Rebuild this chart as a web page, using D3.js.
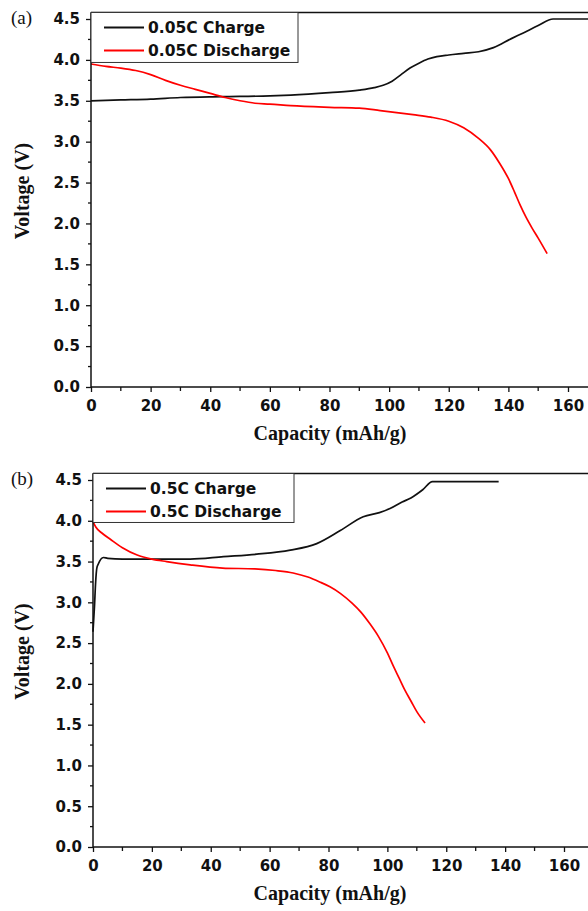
<!DOCTYPE html>
<html>
<head>
<meta charset="utf-8">
<script src="https://cdn.jsdelivr.net/npm/d3@7"></script>
<style>
  body { margin: 0; background: #fff; }
  svg { display: block; }
</style>
</head>
<body>
<div id="chart"></div>
<script>
// Panel (a): 0.05C
const chargeCapA  = [0, 10, 20, 30, 44, 60, 67, 80, 90, 95, 98, 101, 104, 107, 110, 113, 116, 120, 125, 130, 135, 141, 145, 150, 155, 170];
const chargeVoltA = [3.50, 3.51, 3.52, 3.54, 3.55, 3.56, 3.57, 3.60, 3.63, 3.66, 3.69, 3.74, 3.82, 3.90, 3.96, 4.01, 4.04, 4.06, 4.08, 4.10, 4.15, 4.26, 4.33, 4.42, 4.50, 4.50];
const dischargeCapA  = [0, 5, 10, 15, 20, 25, 30, 35, 40, 45, 50, 55, 60, 67, 80, 90, 97, 108, 114, 120, 125, 130, 134, 137, 140, 142, 144, 146, 148, 150, 153];
const dischargeVoltA = [3.95, 3.92, 3.90, 3.87, 3.82, 3.75, 3.69, 3.64, 3.59, 3.54, 3.50, 3.47, 3.46, 3.44, 3.42, 3.41, 3.38, 3.33, 3.30, 3.25, 3.17, 3.04, 2.90, 2.74, 2.55, 2.39, 2.22, 2.07, 1.94, 1.82, 1.63];

// Panel (b): 0.5C
const chargeCapB  = [0, 0.5, 0.9, 1.3, 1.8, 3.5, 5, 10, 20, 33, 44.3, 55.6, 67, 76, 84, 91.8, 97.3, 100.9, 105, 108, 112, 115.3, 137.8];
const chargeVoltB = [2.64, 2.95, 3.25, 3.42, 3.47, 3.55, 3.54, 3.53, 3.53, 3.53, 3.56, 3.59, 3.64, 3.72, 3.88, 4.05, 4.10, 4.15, 4.23, 4.28, 4.38, 4.48, 4.48];
const dischargeCapB  = [0, 1, 3, 6, 10, 15, 20, 25, 33, 44, 55, 62, 68, 73, 77, 80.5, 84, 88, 91, 94, 97, 100, 102, 104, 106, 108, 110, 112.8];
const dischargeVoltB = [3.99, 3.92, 3.85, 3.77, 3.67, 3.58, 3.53, 3.50, 3.46, 3.42, 3.41, 3.39, 3.36, 3.31, 3.25, 3.19, 3.11, 2.99, 2.88, 2.74, 2.58, 2.38, 2.22, 2.07, 1.92, 1.79, 1.66, 1.52];

const voltTicks = [0, 0.5, 1, 1.5, 2, 2.5, 3, 3.5, 4, 4.5];
const voltMinor = [0.25, 0.75, 1.25, 1.75, 2.25, 2.75, 3.25, 3.75, 4.25];
const capTicks = [0, 20, 40, 60, 80, 100, 120, 140, 160];
const capMinor = [10, 30, 50, 70, 90, 110, 130, 150, 170];

const panels = [
    { label: "(a)", left: 91, right: 568, bottom: 387, top: 19, legendW: 207, legendH: 50,
      names: ["0.05C Charge", "0.05C Discharge"],
      charge: [chargeCapA, chargeVoltA], discharge: [dischargeCapA, dischargeVoltA] },
    { label: "(b)", left: 93, right: 564, bottom: 847, top: 480, legendW: 201, legendH: 49,
      names: ["0.5C Charge", "0.5C Discharge"],
      charge: [chargeCapB, chargeVoltB], discharge: [dischargeCapB, dischargeVoltB] }
];

const svg = d3.select("#chart")
    .append("svg")
    .attr("width", 588)
    .attr("height", 911);

const tickFont = "'DejaVu Sans', sans-serif";
const serifFont = "'Liberation Serif', 'Times New Roman', serif";

panels.forEach(p => {
    const x = d3.scaleLinear().domain([0, 160]).range([p.left, p.right]);
    const y = d3.scaleLinear().domain([0, 4.5]).range([p.bottom, p.top]);
    const g = svg.append("g");
    const xMax = x(172);
    const yTop = y(4.58);

    // curves (monotone so plateaus keep their sharp corner)
    const line = d3.line()
        .x(d => x(d[0]))
        .y(d => y(d[1]))
        .curve(d3.curveMonotoneX);

    g.append("path")
        .datum(d3.zip(p.charge[0], p.charge[1]))
        .attr("d", line)
        .attr("fill", "none")
        .attr("stroke", "#111")
        .attr("stroke-width", 1.7);

    g.append("path")
        .datum(d3.zip(p.discharge[0], p.discharge[1]))
        .attr("d", line)
        .attr("fill", "none")
        .attr("stroke", "#ff0000")
        .attr("stroke-width", 1.7);

    // frame: top border
    g.append("line")
        .attr("x1", p.left).attr("x2", xMax)
        .attr("y1", yTop).attr("y2", yTop)
        .attr("stroke", "#111").attr("stroke-width", 1.5);

    // axes
    const xAxis = g.append("g")
        .attr("transform", `translate(0, ${p.bottom})`)
        .call(d3.axisBottom(x).tickValues(capTicks).tickSize(5).tickSizeOuter(0).tickPadding(8));
    xAxis.select(".domain").attr("d", `M${p.left},0H${xMax}`);
    xAxis.selectAll(".minor")
        .data(capMinor)
        .enter()
        .append("line")
        .attr("class", "minor")
        .attr("x1", d => x(d)).attr("x2", d => x(d))
        .attr("y1", 0).attr("y2", 4);

    const yAxis = g.append("g")
        .attr("transform", `translate(${p.left}, 0)`)
        .call(d3.axisLeft(y).tickValues(voltTicks).tickFormat(d3.format(".1f")).tickSize(5).tickSizeOuter(0).tickPadding(6));
    yAxis.select(".domain").attr("d", `M0,${p.bottom}V${yTop}`);
    yAxis.selectAll(".minor")
        .data(voltMinor)
        .enter()
        .append("line")
        .attr("class", "minor")
        .attr("x1", 0).attr("x2", -3)
        .attr("y1", d => y(d)).attr("y2", d => y(d));

    [xAxis, yAxis].forEach(a => {
        a.selectAll(".domain").attr("stroke", "#111").attr("stroke-width", 1.5);
        a.selectAll("line").attr("stroke", "#111").attr("stroke-width", 1.3);
        a.selectAll("text")
            .attr("fill", "#111")
            .style("font-family", tickFont)
            .style("font-weight", "bold")
            .style("font-size", "15px");
    });

    // axis titles
    g.append("text")
        .attr("x", 330)
        .attr("y", p.bottom + 53)
        .attr("text-anchor", "middle")
        .style("font-family", serifFont)
        .style("font-weight", "bold")
        .style("font-size", "20px")
        .attr("fill", "#111")
        .text("Capacity (mAh/g)");

    g.append("text")
        .attr("transform", `translate(29, ${(p.bottom + p.top) / 2 - 12}) rotate(-90)`)
        .attr("text-anchor", "middle")
        .style("font-family", serifFont)
        .style("font-weight", "bold")
        .style("font-size", "20px")
        .attr("fill", "#111")
        .text("Voltage (V)");

    // panel letter
    g.append("text")
        .attr("x", 11)
        .attr("y", p.top + 5)
        .style("font-family", serifFont)
        .style("font-size", "19px")
        .attr("fill", "#111")
        .text(p.label);

    // legend
    const lg = g.append("g").attr("transform", `translate(${p.left}, ${yTop})`);
    lg.append("rect")
        .attr("width", p.legendW)
        .attr("height", p.legendH)
        .attr("fill", "#fff")
        .attr("stroke", "#333")
        .attr("stroke-width", 1);
    const colors = ["#111", "#ff0000"];
    p.names.forEach((name, i) => {
        const ly = 15 + i * 23;
        lg.append("line")
            .attr("x1", 13).attr("x2", 53)
            .attr("y1", ly).attr("y2", ly)
            .attr("stroke", colors[i]).attr("stroke-width", 2);
        lg.append("text")
            .attr("x", 57)
            .attr("y", ly + 6)
            .style("font-family", tickFont)
            .style("font-weight", "bold")
            .style("font-size", "15.5px")
            .attr("fill", "#111")
            .text(name);
    });
});
</script>
</body>
</html>
